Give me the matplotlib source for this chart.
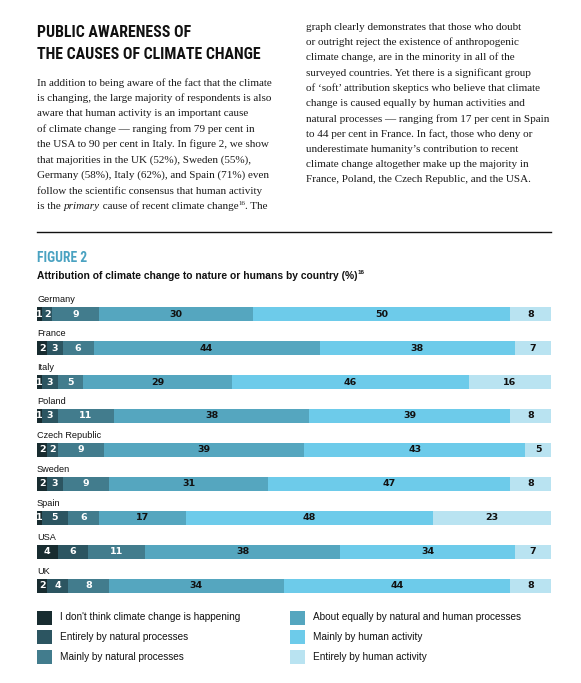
import matplotlib
matplotlib.use("Agg")
import matplotlib.pyplot as plt
from matplotlib import font_manager
from matplotlib.patches import Rectangle
import numpy as np

countries = ["Germany", "France", "Italy", "Poland", "Czech Republic",
             "Sweden", "Spain", "USA", "UK"]
categories = ["I don't think climate change is happening",
              "Entirely by natural processes",
              "Mainly by natural processes",
              "About equally by natural and human processes",
              "Mainly by human activity",
              "Entirely by human activity"]
not_happening = [1, 2, 1, 1, 2, 2, 1, 4, 2]
entirely_natural = [2, 3, 3, 3, 2, 3, 5, 6, 4]
mainly_natural = [9, 6, 5, 11, 9, 9, 6, 11, 8]
equally = [30, 44, 29, 38, 39, 31, 17, 38, 34]
mainly_human = [50, 38, 46, 39, 43, 47, 48, 34, 44]
entirely_human = [8, 7, 16, 8, 5, 8, 23, 7, 8]

colors = ["#182c30", "#2c5561", "#427c8d", "#55a6bf", "#6dcbea", "#b9e3f1"]
label_colors = ["white", "white", "white", "#111111", "#111111", "#111111"]

left_lines = [
    "In addition to being aware of the fact that the climate",
    "is changing, the large majority of respondents is also",
    "aware that human activity is an important cause",
    "of climate change \u2014 ranging from 79 per cent in",
    "the USA to 90 per cent in Italy. In figure 2, we show",
    "that majorities in the UK (52%), Sweden (55%),",
    "Germany (58%), Italy (62%), and Spain (71%) even",
    "follow the scientific consensus that human activity",
]
right_lines = [
    "graph clearly demonstrates that those who doubt",
    "or outright reject the existence of anthropogenic",
    "climate change, are in the minority in all of the",
    "surveyed countries. Yet there is a significant group",
    "of \u2018soft\u2019 attribution skeptics who believe that climate",
    "change is caused equally by human activities and",
    "natural processes \u2014 ranging from 17 per cent in Spain",
    "to 44 per cent in France. In fact, those who deny or",
    "underestimate humanity\u2019s contribution to recent",
    "climate change altogether make up the majority in",
    "France, Poland, the Czech Republic, and the USA.",
]

W, H = 581, 683
installed = {f.name for f in font_manager.fontManager.ttflist}


def pick(*names):
    for n in names:
        if n in installed:
            return n
    return "DejaVu Sans"


narrow = pick("Liberation Sans Narrow", "Roboto Condensed", "Liberation Sans")
sans = pick("Liberation Sans", "Roboto")
serif = pick("Liberation Serif", "DejaVu Serif")
ink = "#1b1b1b"
body_size = 8.0


def fx(px):
    return px / W


def fy(py):
    return 1 - py / H


fig = plt.figure(figsize=(W / 100, H / 100), dpi=100)
fig.patch.set_facecolor("white")

# headline
fig.text(fx(37), fy(32.5), "PUBLIC AWARENESS OF", family=narrow, weight="bold",
         size=11.4, color="#111111", va="center")
fig.text(fx(37), fy(54.5), "THE CAUSES OF CLIMATE CHANGE", family=narrow,
         weight="bold", size=11.4, color="#111111", va="center")

# body text, two columns
for i, line in enumerate(left_lines):
    fig.text(fx(37), fy(83 + i * 15.4), line, family=serif, size=body_size,
             color=ink, va="center")
for i, line in enumerate(right_lines):
    fig.text(fx(306), fy(27 + i * 15.3), line, family=serif, size=body_size,
             color=ink, va="center")

# last left line has italic word and a footnote mark
renderer = fig.canvas.get_renderer()
x = 37
y9 = 83 + 8 * 15.4
for piece, style, sup in [("is the ", "normal", False), ("primary", "italic", False),
                          (" cause of recent climate change", "normal", False),
                          ("16", "normal", True), (". The", "normal", False)]:
    t = fig.text(fx(x), fy(y9 - (3 if sup else 0)), piece, family=serif,
                 style=style, size=5 if sup else body_size, color=ink, va="center")
    x += t.get_window_extent(renderer).width

fig.add_artist(plt.Line2D([fx(37), fx(551)], [fy(232), fy(232)],
                          color="#111111", lw=1))

fig.text(fx(37), fy(258), "FIGURE 2", family=narrow, weight="bold", size=9.8,
         color="#4aa2c1", va="center")
sub = fig.text(fx(37), fy(276),
               "Attribution of climate change to nature or humans by country (%)",
               family=sans, weight="bold", size=7.4, color="#111111", va="center")
sx = 37 + sub.get_window_extent(renderer).width + 0.5
fig.text(fx(sx), fy(273), "16", family=sans, weight="bold", size=4.5,
         color="#111111", va="center")

# stacked bars
ax = fig.add_axes([fx(37), fy(603), fx(514), (603 - 286.8) / H])
series = [not_happening, entirely_natural, mainly_natural,
          equally, mainly_human, entirely_human]
ypos = np.arange(len(countries))
left = np.zeros(len(countries))
for vals, c, lc in zip(series, colors, label_colors):
    vals = np.array(vals, dtype=float)
    bars = ax.barh(ypos, vals, left=left, height=14 / 34, color=c, linewidth=0)
    ax.bar_label(bars, labels=[str(int(v)) for v in vals], label_type="center",
                 color=lc, fontsize=6.8, fontweight="bold", family="DejaVu Sans")
    left += vals
for i, name in enumerate(countries):
    ax.text(0, i - 15 / 34, name, family=sans, size=6.6, color="#111111",
            va="center", ha="left")
ax.set_xlim(0, 100)
ax.set_ylim(8.5, -0.8)
ax.axis("off")

# legend, two columns of three
for k, (name, c) in enumerate(zip(categories, colors)):
    col, row = divmod(k, 3)
    x0 = 37 if col == 0 else 290
    yc = 617.5 + row * 19.5
    fig.add_artist(Rectangle((fx(x0), fy(yc + 7)), fx(15), 14 / H,
                             transform=fig.transFigure, color=c, lw=0))
    fig.text(fx(x0 + 23), fy(yc), name, family=sans, size=7.2,
             color="#111111", va="center")

fig.savefig("out.png", dpi=100)
